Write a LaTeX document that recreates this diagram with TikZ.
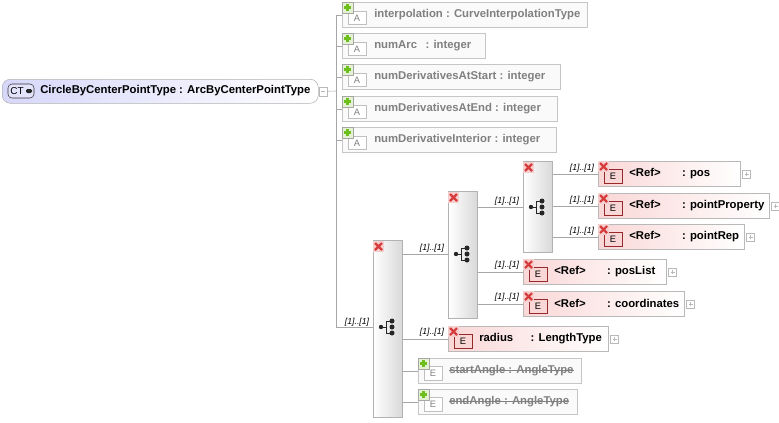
\documentclass[tikz,border=0pt]{standalone}
\usepackage{fontspec}
\setmainfont{Liberation Sans}
\usetikzlibrary{positioning,calc}

\definecolor{elemred}{RGB}{250,215,215}
\definecolor{rootblue}{RGB}{215,215,250}
\definecolor{xred}{RGB}{215,60,60}
\definecolor{pgreen}{RGB}{110,190,30}

\tikzset{
  root/.style={draw=gray!60,rounded corners=6pt,left color=rootblue,right color=white,anchor=north west,inner sep=0pt},
  attr/.style={draw=gray!45,fill=gray!4,anchor=north west,inner sep=0pt},
  elem/.style={draw=gray!55,left color=elemred,right color=white,anchor=north west,inner sep=0pt},
  grp/.style={draw=gray!60,left color=white,right color=gray!30,anchor=north west,inner sep=0pt},
  txt/.style={anchor=west,inner sep=0pt,font=\fontsize{8.5}{9}\selectfont\bfseries},
  card/.style={inner sep=0pt,font=\fontsize{6.5}{7}\selectfont\itshape},
  conn/.style={draw=gray!70,thin},
}

% x, y in pixels of the reference
\newcommand\xmark[2]{%
  \fill[xred!25] (#1,#2) rectangle ++(11,11);
  \draw[xred,line width=1.6pt] (#1+2,#2+2) -- ++(7,7) (#1+9,#2+2) -- ++(-7,7);}
\newcommand\gplus[2]{%
  \fill[pgreen!20] (#1,#2) rectangle ++(11,11);
  \draw[gray!70] (#1,#2) rectangle ++(11,11);
  \draw[pgreen,line width=1.6pt] (#1+5.5,#2+2) -- ++(0,7) (#1+2,#2+5.5) -- ++(7,0);}
\newcommand\expand[1]{%
  \draw[gray!55,fill=white] ([shift={(2,-4)}]#1.east) rectangle ++(8,8);
  \draw[gray!55] ([shift={(4,0)}]#1.east) -- ++(4,0) ([shift={(6,-2)}]#1.east) -- ++(0,4);}
\newcommand\seqicon[1]{%
  \fill[gray!30!black] ([shift={(-7,0)}]#1) circle (2.2);
  \draw[gray!30!black] ([shift={(-7,0)}]#1) -- ++(5,0) ([shift={(-2,-6)}]#1) -- ++(0,12)
    ([shift={(-2,-6)}]#1) -- ++(4,0) ([shift={(-2,6)}]#1) -- ++(4,0);
  \foreach \d in {-6,0,6} \fill[gray!30!black] ([shift={(4,\d)}]#1) circle (2.5);}

\newcommand\attrbox[5]{% name, x, y, width, text
  \node[attr,minimum width=#4*0.75pt,minimum height=25*0.75pt] (#1) at (#2,#3) {};
  \draw[gray!50,fill=white] (#2+6,#3+9) rectangle ++(18,13);
  \node[font=\fontsize{7}{8}\selectfont,text=gray] at (#2+15,#3+16) {A};
  \node[txt,text=gray] at (#2+32,#3+12.5) {#5};
  \gplus{#2}{#3}}
\newcommand\elembox[5]{% name, x, y, width, text
  \node[elem,minimum width=#4*0.75pt,minimum height=25*0.75pt] (#1) at (#2,#3) {};
  \draw[xred!70!black,fill=elemred] (#2+6,#3+8) rectangle ++(18,14);
  \node[font=\fontsize{7}{8}\selectfont] at (#2+15,#3+15.5) {E};
  \node[txt] at (#2+31,#3+12.5) {#5};
  \xmark{#2}{#3}\expand{#1}}
\newcommand\greybox[5]{% name, x, y, width, text
  \node[attr,minimum width=#4*0.75pt,minimum height=25*0.75pt] (#1) at (#2,#3) {};
  \draw[gray!50,fill=white] (#2+6,#3+8) rectangle ++(18,14);
  \node[font=\fontsize{7}{8}\selectfont,text=gray] at (#2+15,#3+15.5) {E};
  \node[txt,text=gray] (#1t) at (#2+31,#3+12.5) {#5};
  \draw[gray] (#1t.west) -- (#1t.east);
  \gplus{#2}{#3}}

\begin{document}
\begin{tikzpicture}[x=0.75pt,y=-0.75pt]
\useasboundingbox (0,0) rectangle (779,422);

% root type
\node[root,minimum width=316*0.75pt,minimum height=24*0.75pt] (ct) at (2,79) {};
\draw[gray!40!black,fill=rootblue!70,rounded corners=3pt] (8,84) rectangle (34,98);
\node[font=\fontsize{7.5}{8}\selectfont] at (17,91) {CT};
\fill[gray!30!black,rounded corners=1pt] (26,89) rectangle (32,93);
\node[txt] at (40,91) {CircleByCenterPointType : ArcByCenterPointType};
\draw[gray!55,fill=white] (319,87) rectangle (327,96);
\draw[gray!55] (321,91.5) -- (325,91.5);
\coordinate (trunk) at (336,91);

% attributes
\attrbox{interp}{342}{2}{245}{interpolation : CurveInterpolationType}
\attrbox{numarc}{342}{33}{143}{numArc\hspace{4pt} : integer}
\attrbox{nstart}{342}{64}{218}{numDerivativesAtStart : integer}
\attrbox{nend}{342}{96}{215}{numDerivativesAtEnd : integer}
\attrbox{nint}{342}{127}{214}{numDerivativeInterior : integer}

% groups
\node[grp,minimum width=29*0.75pt,minimum height=177*0.75pt] (seq) at (373,240) {};
\node[grp,minimum width=29*0.75pt,minimum height=127*0.75pt] (ch1) at (448,191) {};
\node[grp,minimum width=29*0.75pt,minimum height=91*0.75pt] (ch2) at (523,161) {};
\xmark{373}{241}\xmark{448}{192}\xmark{523}{162}
\seqicon{388,327}\seqicon{463,254}\seqicon{538,207}

% elements
\elembox{pos}{598}{161}{142}{<Ref>\hspace{16pt}: pos}
\elembox{pprop}{598}{193}{171}{<Ref>\hspace{16pt}: pointProperty}
\elembox{prep}{598}{224}{146}{<Ref>\hspace{16pt}: pointRep}
\elembox{plist}{523}{259}{143}{<Ref>\hspace{16pt}: posList}
\elembox{coord}{523}{291}{161}{<Ref>\hspace{16pt}: coordinates}
\elembox{radius}{448}{326}{160}{radius\hspace{13pt}: LengthType}
\greybox{sangle}{418}{358}{163}{startAngle : AngleType}
\greybox{eangle}{418}{389}{159}{endAngle : AngleType}

% connectors
\draw[conn] (ct.east) ++(9,0) -- (trunk);
\draw[conn] (trunk |- interp.west) -- (trunk |- 0,327);
\foreach \n in {interp,numarc,nstart,nend,nint}
  \draw[conn] (\n.west -| trunk) -- (\n.west);
\draw[conn] (trunk |- 0,327) -- (seq.west |- 0,327);
\draw[conn] (seq.east |- 0,254) -- (ch1.west |- 0,254);
\draw[conn] (ch1.east |- 0,207) -- (ch2.west |- 0,207);
\foreach \n in {pos,pprop,prep}
  \draw[conn] (\n.west -| ch2.east) -- (\n.west);
\foreach \n in {plist,coord}
  \draw[conn] (\n.west -| ch1.east) -- (\n.west);
\foreach \n in {radius,sangle,eangle}
  \draw[conn] (\n.west -| seq.east) -- (\n.west);

% cardinalities
\node[card] at (357,322) {[1]..[1]};
\node[card] at (432,248) {[1]..[1]};
\node[card] at (507,201) {[1]..[1]};
\foreach \y in {168,200,231} \node[card] at (582,\y) {[1]..[1]};
\foreach \y in {265,297} \node[card] at (507,\y) {[1]..[1]};
\node[card] at (432,332) {[1]..[1]};
\end{tikzpicture}
\end{document}
